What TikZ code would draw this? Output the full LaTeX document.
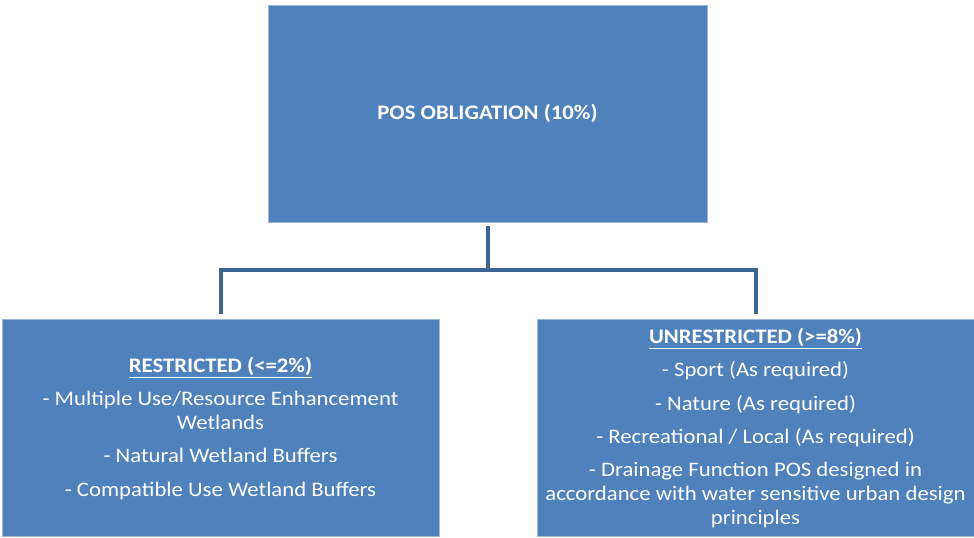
\documentclass[tikz,border=0pt]{standalone}
\usepackage{fontspec}
\setmainfont{Carlito}[FakeStretch=1.1]
\usepackage{tikz}
\usetikzlibrary{positioning}
\definecolor{boxblue}{HTML}{4F81BD}
\definecolor{boxedge}{HTML}{9CB7DA}
\definecolor{linkblue}{HTML}{3C6496}

\begin{document}
\begin{tikzpicture}[
  x=0.75pt, y=-0.75pt,
  box/.style={fill=boxblue, draw=boxedge, line width=0.4pt, inner sep=0pt, align=center,
    text=white, minimum width=329pt, minimum height=162.75pt,
    font=\fontsize{15.5}{18}\selectfont},
  conn/.style={draw=linkblue, line width=3pt, line join=miter}
]
  \useasboundingbox (0,0) rectangle (974,538);

  \node[box] (pos) at (487.5,113.5) {\textbf{POS OBLIGATION (10\%)}};

  \node[box, minimum width=327.75pt, below=72.75pt of pos, xshift=-200.25pt] (restricted)
    {\underline{\textbf{RESTRICTED (<=2\%)}}\\[7pt]
     - Multiple Use/Resource Enhancement\\ Wetlands\\[7pt]
     - Natural Wetland Buffers\\[7pt]
     - Compatible Use Wetland Buffers};
  \node[box, minimum width=327.75pt, below=72.75pt of pos, xshift=201pt] (unrestricted)
    {\underline{\textbf{UNRESTRICTED (>=8\%)}}\\[7pt]
     - Sport (As required)\\[7pt]
     - Nature (As required)\\[7pt]
     - Recreational / Local (As required)\\[7pt]
     - Drainage Function POS designed in\\
     accordance with water sensitive urban design\\ principles};

  \draw[conn] ([yshift=-3pt]pos.south) -- ++(0,-33pt) coordinate (split);
  \draw[conn] ([yshift=4pt]restricted.north) |- (split) -| ([yshift=4pt]unrestricted.north);
\end{tikzpicture}
\end{document}
